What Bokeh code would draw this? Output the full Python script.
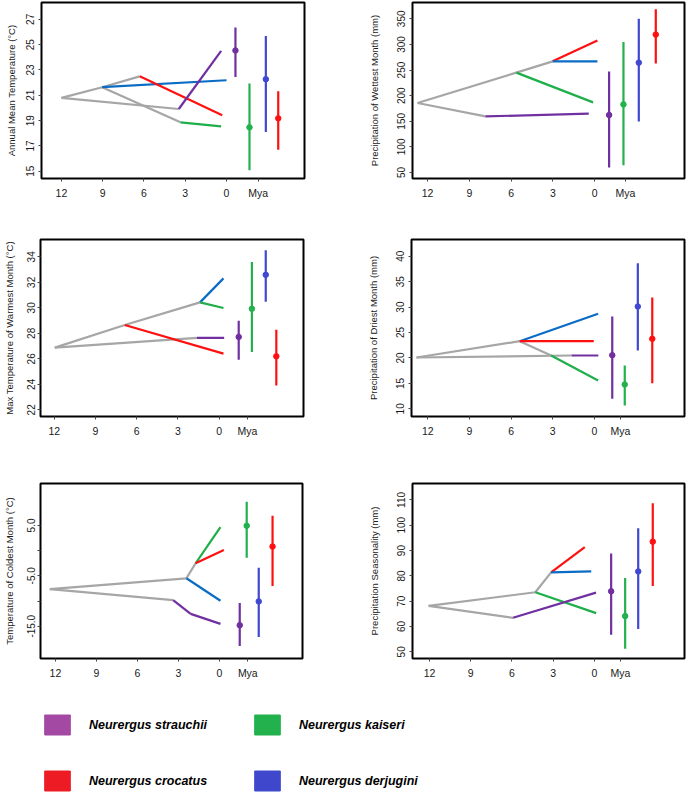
from bokeh.plotting import figure
from bokeh.layouts import column, row
from bokeh.models import Range1d, FixedTicker, ColumnDataSource, Legend, LegendItem
from bokeh.embed import file_html
from bokeh.resources import INLINE

# ---------------------------------------------------------------- data
# Present-day ranges are listed in this species order in every panel.
SPECIES = ["strauchii", "kaiseri", "derjugini", "crocatus"]
AGE_TICKS = [12, 9, 6, 3, 0]

# Branches: (start age Mya, start value, end age Mya, end value, lineage)
# Annual mean temperature
amt_ticks = [15, 17, 19, 21, 23, 25, 27]
amt_branches = [
    (12.00, 20.80, 9.04, 21.64, "stem"),
    (12.00, 20.80, 3.47, 19.92, "stem"),
    (9.04, 21.64, 6.31, 22.50, "stem"),
    (9.04, 21.64, 3.35, 18.87, "stem"),
    (9.04, 21.64, 0.00, 22.19, "derjugini"),
    (6.31, 22.50, 0.31, 19.42, "crocatus"),
    (3.35, 18.87, 0.39, 18.55, "kaiseri"),
    (3.47, 19.92, 0.39, 24.51, "strauchii"),
]
amt_mean = [24.54, 18.47, 22.27, 19.18]
amt_low = [22.45, 15.08, 18.11, 16.70]
amt_high = [26.35, 21.93, 25.69, 21.33]

# Precipitation of wettest month
pwm_ticks = [50, 100, 150, 200, 250, 300, 350]
pwm_branches = [
    (12.72, 185.7, 5.63, 245.0, "stem"),
    (5.63, 245.0, 3.02, 267.0, "stem"),
    (12.72, 185.7, 7.85, 159.5, "stem"),
    (3.02, 267.0, -0.19, 307.6, "crocatus"),
    (3.02, 267.0, -0.19, 267.0, "derjugini"),
    (5.63, 245.0, 0.12, 186.9, "kaiseri"),
    (7.85, 159.5, 0.43, 164.8, "strauchii"),
]
pwm_mean = [162.2, 183.0, 264.5, 319.3]
pwm_low = [59.8, 64.4, 149.7, 262.6]
pwm_high = [247.0, 305.0, 350.0, 368.8]

# Max temperature of warmest month
mtw_ticks = [22, 24, 26, 28, 30, 32, 34]
mtw_branches = [
    (11.97, 26.88, 6.87, 28.66, "stem"),
    (6.87, 28.66, 1.39, 30.43, "stem"),
    (11.97, 26.88, 1.61, 27.64, "stem"),
    (1.39, 30.43, -0.32, 32.31, "derjugini"),
    (1.39, 30.43, -0.32, 29.99, "kaiseri"),
    (6.87, 28.66, -0.32, 26.41, "crocatus"),
    (1.61, 27.64, -0.37, 27.64, "strauchii"),
]
mtw_mean = [27.72, 29.93, 32.59, 26.20]
mtw_low = [25.94, 26.54, 30.48, 23.91]
mtw_high = [28.99, 33.59, 34.52, 28.29]

# Precipitation of driest month
pdm_ticks = [10, 15, 20, 25, 30, 35, 40]
pdm_branches = [
    (12.81, 20.09, 5.38, 23.29, "stem"),
    (12.81, 20.09, 1.65, 20.48, "stem"),
    (5.38, 23.29, 3.12, 20.48, "stem"),
    (5.38, 23.29, -0.26, 28.68, "derjugini"),
    (5.38, 23.29, 0.05, 23.29, "crocatus"),
    (3.12, 20.48, -0.26, 15.57, "kaiseri"),
    (1.65, 20.48, -0.28, 20.48, "strauchii"),
]
pdm_mean = [20.54, 14.78, 30.11, 23.76]
pdm_low = [11.97, 10.65, 21.46, 15.04]
pdm_high = [28.15, 18.51, 38.62, 31.88]

# Temperature of coldest month
tcm_ticks = [-15, -10, -5, 0, 5]
tcm_tick_labels = ["-15.0", "", "-5.0", "", "5.0"]
tcm_branches = [
    (12.41, -7.65, 2.42, -5.49, "stem"),
    (2.42, -5.49, 1.75, -2.53, "stem"),
    (12.41, -7.65, 3.39, -9.81, "stem"),
    (1.75, -2.53, -0.07, 4.67, "kaiseri"),
    (1.75, -2.53, -0.32, 0.11, "crocatus"),
    (2.42, -5.49, -0.07, -9.95, "derjugini"),
    (3.39, -9.81, 2.11, -12.56, "strauchii"),
    (2.11, -12.56, -0.07, -14.53, "strauchii"),
]
tcm_mean = [-14.80, 4.93, -10.08, 0.81]
tcm_low = [-18.93, -1.43, -17.16, -7.00]
tcm_high = [-10.40, 9.72, -3.39, 6.91]

# Precipitation seasonality
psn_ticks = [50, 60, 70, 80, 90, 100, 110]
psn_branches = [
    (12.07, 68.16, 4.30, 73.53, "stem"),
    (4.30, 73.53, 3.15, 81.37, "stem"),
    (12.07, 68.16, 5.92, 63.45, "stem"),
    (3.15, 81.37, 0.70, 91.41, "crocatus"),
    (3.15, 81.37, 0.23, 81.76, "derjugini"),
    (4.30, 73.53, -0.13, 65.29, "kaiseri"),
    (5.92, 63.45, -0.12, 73.40, "strauchii"),
]
psn_mean = [73.92, 64.12, 81.76, 93.53]
psn_low = [56.78, 51.18, 59.02, 76.00]
psn_high = [88.82, 79.14, 98.86, 108.67]

# Legend entries (row by row)
LEGEND_NAMES = ["Neurergus strauchii", "Neurergus kaiseri",
                "Neurergus crocatus", "Neurergus derjugini"]

# ---------------------------------------------------------------- styles
TREE_COLORS = {"stem": "#A6A6A6", "strauchii": "#7030A0", "kaiseri": "#1FAF4A",
               "crocatus": "#FF1010", "derjugini": "#0A6CC4"}
BAR_COLORS = {"strauchii": "#7030A0", "kaiseri": "#22B14C",
              "crocatus": "#FF1010", "derjugini": "#3F48D0"}
LEGEND_COLORS = ["#A349A4", "#22B14C", "#ED1C24", "#3F48CC"]
FONT = "Liberation Sans"

TRAITS = [
    dict(title="Annual Mean Temperature (\u00b0C)", ticks=amt_ticks, labels=None,
         branches=amt_branches, mean=amt_mean, low=amt_low, high=amt_high),
    dict(title="Precipitation of Wettest Month (mm)", ticks=pwm_ticks, labels=None,
         branches=pwm_branches, mean=pwm_mean, low=pwm_low, high=pwm_high),
    dict(title="Max Temperature of Warmest Month (\u00b0C)", ticks=mtw_ticks, labels=None,
         branches=mtw_branches, mean=mtw_mean, low=mtw_low, high=mtw_high),
    dict(title="Precipitation of Driest Month (mm)", ticks=pdm_ticks, labels=None,
         branches=pdm_branches, mean=pdm_mean, low=pdm_low, high=pdm_high),
    dict(title="Temperature of Coldest Month (\u00b0C)", ticks=tcm_ticks, labels=tcm_tick_labels,
         branches=tcm_branches, mean=tcm_mean, low=tcm_low, high=tcm_high),
    dict(title="Precipitation Seasonality (mm)", ticks=psn_ticks, labels=None,
         branches=psn_branches, mean=psn_mean, low=psn_low, high=psn_high),
]

# Panel geometry: figure size, borders (l, r, t, b), ranges, where the
# present-day ranges and the "Mya" caption sit on the age axis.
LAYOUT = [
    dict(w=345, h=225, border=(41, 41, 2, 46), xr=(13.45, -5.67), yr=(14.43, 28.33),
         bar_x=[-0.65, -1.67, -2.86, -3.76], mya=-2.3, s1=4, s2=7),
    dict(w=344, h=225, border=(67, 5, 2, 47), xr=(13.08, -6.44), yr=(38.3, 381.9),
         bar_x=[-1.03, -2.06, -3.16, -4.38], mya=-2.2, s1=4, s2=15),
    dict(w=345, h=235, border=(38, 42, 13, 44), xr=(13.01, -6.15), yr=(21.48, 35.36),
         bar_x=[-1.43, -2.39, -3.40, -4.17], mya=-2.06, s1=2, s2=10),
    dict(w=344, h=235, border=(66, 5, 14, 44), xr=(13.17, -6.48), yr=(8.49, 43.28),
         bar_x=[-1.28, -2.18, -3.12, -4.16], mya=-1.87, s1=4, s2=15),
    dict(w=345, h=230, border=(38, 43, 22, 32), xr=(13.09, -6.07), yr=(-21.41, 13.32),
         bar_x=[-1.48, -1.99, -2.87, -3.88], mya=-2.07, s1=2, s2=10),
    dict(w=344, h=230, border=(67, 5, 23, 31), xr=(13.24, -6.56), yr=(47.37, 116.5),
         bar_x=[-1.22, -2.24, -3.19, -4.25], mya=-1.9, s1=4, s2=15),
]


def make_panel(trait, lay):
    l, r, t, b = lay["border"]
    p = figure(width=lay["w"], height=lay["h"], output_backend="svg", toolbar_location=None,
               x_range=Range1d(*lay["xr"]), y_range=Range1d(*lay["yr"]),
               min_border_left=l, min_border_right=r, min_border_top=t, min_border_bottom=b,
               background_fill_color="white", border_fill_color="white")
    p.grid.visible = False
    p.outline_line_color = "black"
    p.outline_line_width = 2
    p.outline_line_alpha = 1

    br = trait["branches"]
    tree = ColumnDataSource(dict(
        x0=[s[0] for s in br], y0=[s[1] for s in br],
        x1=[s[2] for s in br], y1=[s[3] for s in br],
        c=[TREE_COLORS[s[4]] for s in br]))
    p.segment("x0", "y0", "x1", "y1", source=tree, line_color="c", line_width=2.2)

    bars = ColumnDataSource(dict(
        x=lay["bar_x"], lo=trait["low"], hi=trait["high"], m=trait["mean"],
        c=[BAR_COLORS[s] for s in SPECIES]))
    p.segment("x", "lo", "x", "hi", source=bars, line_color="c", line_width=2.2)
    p.scatter("x", "m", source=bars, size=5.5, marker="circle", color="c")

    xa = p.xaxis[0]
    xa.ticker = FixedTicker(ticks=AGE_TICKS + [lay["mya"]])
    over = {a: str(a) for a in AGE_TICKS}
    over[lay["mya"]] = "Mya"
    xa.major_label_overrides = over
    xa.major_label_text_font_size = "10.5px"
    xa.major_label_standoff = 5

    ya = p.yaxis[0]
    ya.ticker = FixedTicker(ticks=trait["ticks"])
    labels = trait["labels"] or [str(v) for v in trait["ticks"]]
    ya.major_label_overrides = dict(zip(trait["ticks"], labels))
    ya.major_label_orientation = "parallel"
    ya.major_label_text_font_size = "10px"
    ya.major_label_standoff = lay["s1"]
    ya.axis_label = trait["title"]
    ya.axis_label_text_font = FONT
    ya.axis_label_text_font_size = "9.5px"
    ya.axis_label_text_font_style = "normal"
    ya.axis_label_text_color = "#1a1a1a"
    ya.axis_label_standoff = lay["s2"]

    for ax in (xa, ya):
        ax.axis_line_color = None
        ax.major_tick_in = 0
        ax.major_tick_out = 3
        ax.major_tick_line_color = "#444444"
        ax.minor_tick_line_color = None
        ax.major_label_text_font = FONT
        ax.major_label_text_color = "#1a1a1a"
    return p


panels = [make_panel(tr, lay) for tr, lay in zip(TRAITS, LAYOUT)]

# Species key below the panels: one swatch renderer per species, kept
# outside the visible range so only the legend shows it.
key = figure(width=689, height=103, output_backend="svg", toolbar_location=None,
             x_range=Range1d(0, 1), y_range=Range1d(0, 1),
             x_axis_location=None, y_axis_location=None, min_border=0,
             background_fill_color="white", border_fill_color="white")
key.grid.visible = False
key.outline_line_color = None
items = []
for name, color in zip(LEGEND_NAMES, LEGEND_COLORS):
    swatch = ColumnDataSource(dict(l=[5], r=[6], t=[6], b=[5]))
    rr = key.quad(left="l", right="r", top="t", bottom="b", source=swatch,
                  fill_color=color, line_color=color, line_width=1)
    items.append(LegendItem(label=name, renderers=[rr]))
legend = Legend(items=items, location=(41, 0), orientation="horizontal", ncols=2,
                glyph_width=32, glyph_height=25, label_standoff=16, spacing=31,
                label_width=131, padding=0, margin=0, border_line_color=None,
                background_fill_alpha=0, label_text_font=FONT,
                label_text_font_style="bold italic", label_text_font_size="12.5px",
                label_text_color="black")
key.add_layout(legend)

page = column(row(panels[0], panels[1]), row(panels[2], panels[3]),
              row(panels[4], panels[5]), key)

open("out.html", "w").write(file_html(page, INLINE))
